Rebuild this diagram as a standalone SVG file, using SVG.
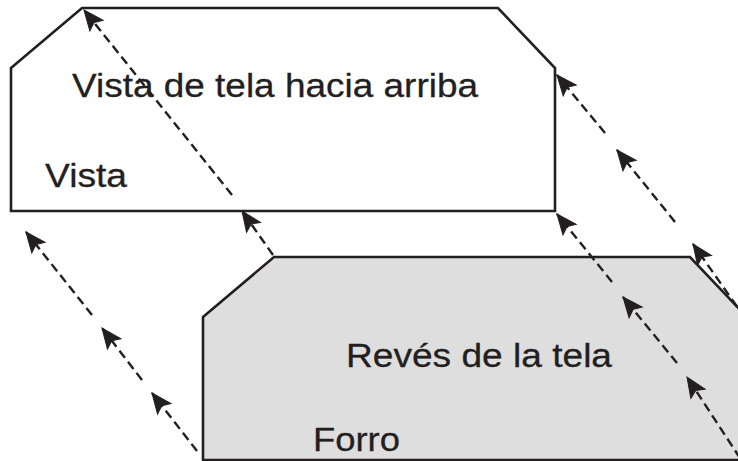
<svg xmlns="http://www.w3.org/2000/svg" width="738" height="461" viewBox="0 0 738 461">
<style>
.shape{stroke:#231f20;stroke-width:2.6;stroke-linejoin:miter}
.top{fill:#ffffff}
.bottom{fill:#dedede}
.lbl{font-family:"Liberation Sans",Arial,sans-serif;font-size:34px;fill:#231f20;stroke:#231f20;stroke-width:0.3}
.arr{stroke:#231f20;stroke-width:2.4;stroke-dasharray:9 5;fill:none;marker-end:url(#ah)}
</style>
<defs>
<marker id="ah" markerUnits="userSpaceOnUse" markerWidth="30" markerHeight="30" viewBox="-26 -15 30 30" refX="0" refY="0" orient="auto" overflow="visible">
<path d="M0,0 L-20,-8.5 L-16,0 L-20,8.5 Z" fill="#231f20" stroke="#231f20" stroke-width="1" stroke-linejoin="miter"/>
</marker>
</defs>
<rect width="738" height="461" fill="#ffffff"/>
<g id="vista">
<polygon class="shape top" points="11,68 82,8 498,8 555,68 555,211 11,211"/>
<text class="lbl" x="72" y="97" textLength="406" lengthAdjust="spacingAndGlyphs">Vista de tela hacia arriba</text>
<text class="lbl" x="45" y="187" textLength="82" lengthAdjust="spacingAndGlyphs">Vista</text>
</g>
<g id="forro">
<polygon class="shape bottom" points="203,317 274,257 690,257 747,317 747,460 203,460"/>
<text class="lbl" x="346" y="367" textLength="266" lengthAdjust="spacingAndGlyphs">Revés de la tela</text>
<text class="lbl" x="313" y="451" textLength="87" lengthAdjust="spacingAndGlyphs">Forro</text>
</g>
<g id="connectors">
<line class="arr" x1="197" y1="451" x2="152" y2="393"/>
<line class="arr" x1="142" y1="380" x2="102" y2="328"/>
<line class="arr" x1="92" y1="315" x2="26" y2="232"/>
<line class="arr" x1="273" y1="255" x2="242" y2="211"/>
<line class="arr" x1="232" y1="195" x2="84" y2="10"/>
<line class="arr" x1="745" y1="318" x2="693" y2="244"/>
<line class="arr" x1="675" y1="222" x2="617" y2="150"/>
<line class="arr" x1="605" y1="133" x2="557" y2="75"/>
<line class="arr" x1="740" y1="458" x2="687" y2="377"/>
<line class="arr" x1="677" y1="363" x2="623" y2="297"/>
<line class="arr" x1="612" y1="282" x2="557" y2="214"/>
</g>
</svg>
